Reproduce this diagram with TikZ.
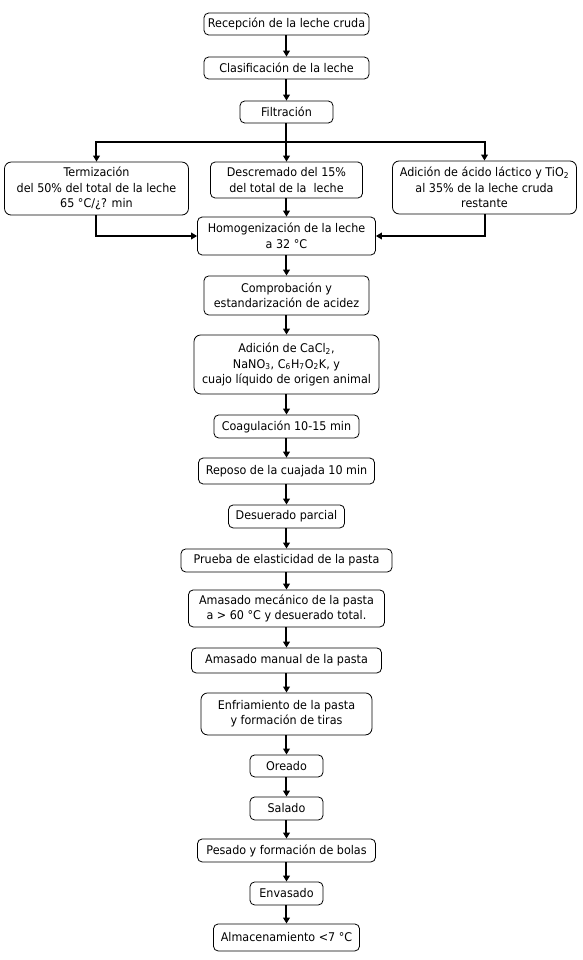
\documentclass[tikz,border=0pt]{standalone}
\usepackage{fontspec}
\setmainfont{DejaVu Sans}[FakeStretch=0.93]
\usetikzlibrary{arrows.meta,positioning}

\begin{document}
\begin{tikzpicture}[->, >={Triangle[length=4.5pt,width=5pt]}, line width=1.5pt, paso/.style={draw, line width=0.6pt, rounded corners=3.5pt, align=center, inner sep=1pt, font=\fontsize{9}{11.6}\selectfont}, auto]

		\useasboundingbox (-214.875pt,18pt) rectangle (221.625pt,-702pt);

		\node [paso, minimum width=123.75pt, minimum height=16.5pt] (R) {Recepción de la leche cruda};
		\node [paso, minimum width=123.75pt, minimum height=16.5pt] (C) [below of = R, node distance=33pt] {Clasificación de la leche};
		\node [paso, minimum width=69.75pt, minimum height=16.5pt] (F) [below of = C, node distance=33pt] {Filtración};
		\node [paso, minimum width=114pt, minimum height=27pt] (D) [below of = F, node distance=51pt] {Descremado del 15\%\\del total de la\ \ leche};
		\node [paso, minimum width=138pt, minimum height=39.75pt, rounded corners=5pt] (T) [left of = D, node distance=142.5pt, yshift=-6.4pt] {Termización\\del 50\% del total de la leche\\65 °C/¿? min};
		\node [paso, minimum width=138pt, minimum height=39.75pt, rounded corners=5pt] (A) [right of = D, node distance=148.5pt, yshift=-5.6pt] {Adición de ácido láctico y TiO\textsubscript{2}\\al 35\% de la leche cruda\\restante};
		\node [paso, minimum width=133.5pt, minimum height=28.5pt] (Ho) [below of = D, node distance=42pt] {Homogenización de la leche\\a 32 °C};
		\node [paso, minimum width=123.75pt, minimum height=29.25pt] (Co) [below of = Ho, node distance=44.6pt] {Comprobación y\\estandarización de acidez};
		\node [paso, minimum width=138.75pt, minimum height=44.25pt, rounded corners=5pt] (Ca) [below of = Co, node distance=51.75pt] {Adición de CaCl\textsubscript{2},\\NaNO\textsubscript{3}, C\textsubscript{6}H\textsubscript{7}O\textsubscript{2}K, y\\cuajo líquido de origen animal};
		\node [paso, minimum width=108.75pt, minimum height=17.25pt] (Cg) [below of = Ca, node distance=46.5pt] {Coagulación 10-15 min};
		\node [paso, minimum width=132pt, minimum height=19.5pt] (Re) [below of = Cg, node distance=33.4pt] {Reposo de la cuajada 10 min};
		\node [paso, minimum width=87pt, minimum height=17.25pt] (De) [below of = Re, node distance=34.1pt] {Desuerado parcial};
		\node [paso, minimum width=158.25pt, minimum height=17.25pt] (Pr) [below of = De, node distance=33pt] {Prueba de elasticidad de la pasta};
		\node [paso, minimum width=147pt, minimum height=27.75pt] (Am) [below of = Pr, node distance=36pt] {Amasado mecánico de la pasta\\a > 60 °C y desuerado total.};
		\node [paso, minimum width=142.5pt, minimum height=18.75pt] (Mn) [below of = Am, node distance=39pt] {Amasado manual de la pasta};
		\node [paso, minimum width=128.25pt, minimum height=31.5pt, rounded corners=5pt] (En) [below of = Mn, node distance=40.1pt] {Enfriamiento de la pasta\\y formación de tiras};
		\node [paso, minimum width=54.75pt, minimum height=16.5pt] (Or) [below of = En, node distance=39pt] {Oreado};
		\node [paso, minimum width=54.75pt, minimum height=17.25pt] (Sa) [below of = Or, node distance=31.9pt] {Salado};
		\node [paso, minimum width=133.5pt, minimum height=17.25pt] (Pe) [below of = Sa, node distance=31.5pt] {Pesado y formación de bolas};
		\node [paso, minimum width=54.75pt, minimum height=17.25pt] (Ev) [below of = Pe, node distance=32.25pt] {Envasado};
		\node [paso, minimum width=109.5pt, minimum height=20.25pt] (Al) [below of = Ev, node distance=33pt] {Almacenamiento <7 °C};

		\coordinate [below=14.25pt of F.south] (split);

		\draw (R) -- (C);
		\draw (C) -- (F);
		\draw [-] (F) -- (split);
		\draw (split) -| (T);
		\draw (split) -- (D);
		\draw (split) -| (A);
		\draw (D) -- (Ho);
		\draw (T) |- (Ho);
		\draw (A) |- (Ho);
		\draw (Ho) -- (Co);
		\draw (Co) -- (Ca);
		\draw (Ca) -- (Cg);
		\draw (Cg) -- (Re);
		\draw (Re) -- (De);
		\draw (De) -- (Pr);
		\draw (Pr) -- (Am);
		\draw (Am) -- (Mn);
		\draw (Mn) -- (En);
		\draw (En) -- (Or);
		\draw (Or) -- (Sa);
		\draw (Sa) -- (Pe);
		\draw (Pe) -- (Ev);
		\draw (Ev) -- (Al);

\end{tikzpicture}
\end{document}
